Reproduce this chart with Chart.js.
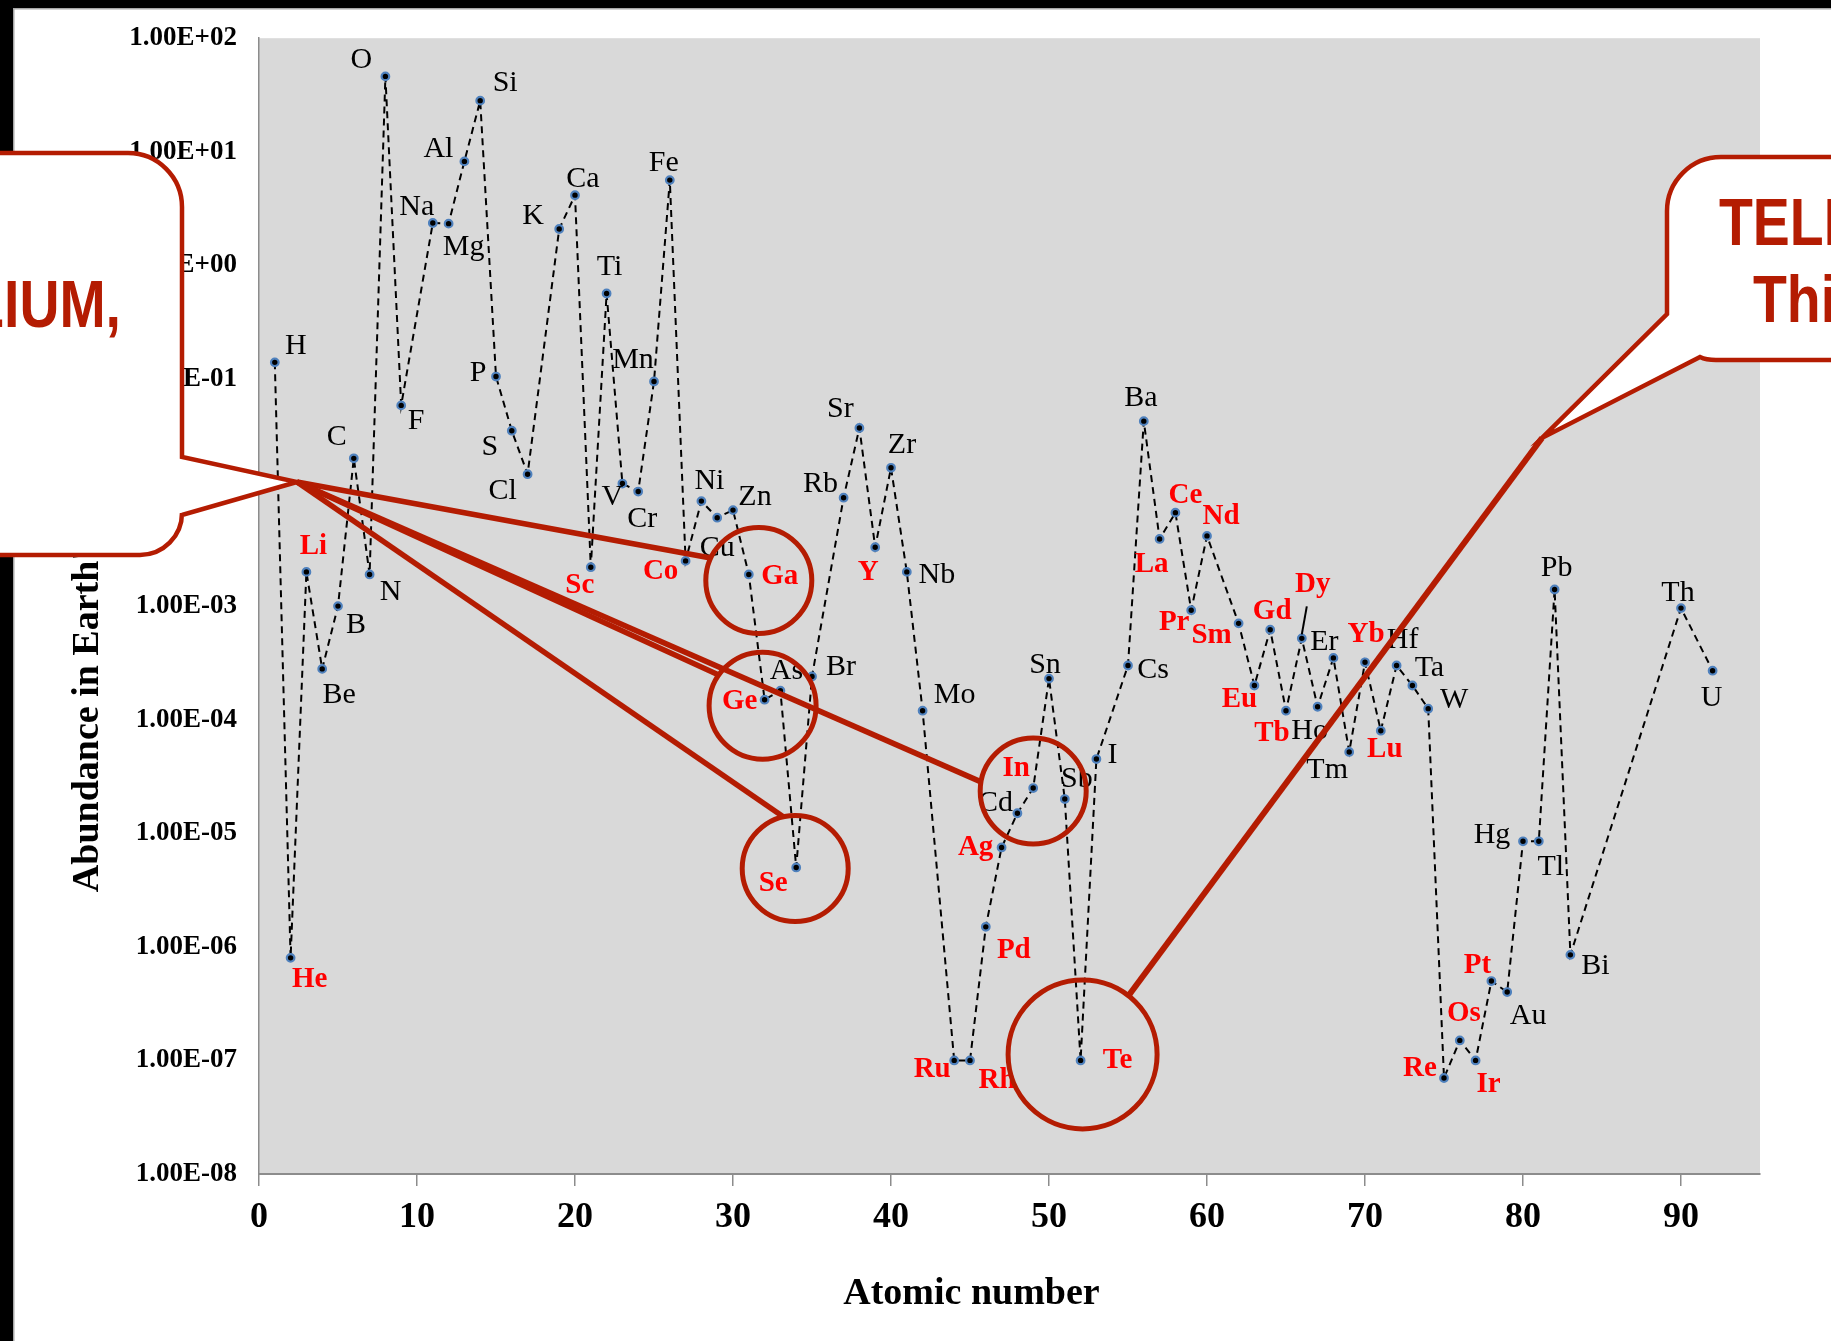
<!DOCTYPE html>
<html>
<head>
<meta charset="utf-8">
<title>Abundance of elements in Earth's crust</title>
<script src="https://cdn.jsdelivr.net/npm/chart.js@4.4.1/dist/chart.umd.min.js"></script>
<style>
html,body{margin:0;padding:0;background:#ffffff;overflow:hidden;}
#c{display:block;}
</style>
</head>
<body>
<canvas id="c" width="1831" height="1341"></canvas>
<script>
// ---------------- DATA ----------------
const symbols = ['H','He','Li','Be','B','C','N','O','F','Na','Mg','Al','Si','P','S','Cl','K','Ca','Sc','Ti','V','Cr','Mn','Fe','Co','Ni','Cu','Zn','Ga','Ge','As','Se','Br','Rb','Sr','Y','Zr','Nb','Mo','Ru','Rh','Pd','Ag','Cd','In','Sn','Sb','Te','I','Cs','Ba','La','Ce','Pr','Nd','Sm','Eu','Gd','Tb','Dy','Ho','Er','Tm','Yb','Lu','Hf','Ta','W','Re','Os','Ir','Pt','Au','Hg','Tl','Pb','Bi','Th','U'];
const atomicNumbers = [1,2,3,4,5,6,7,8,9,11,12,13,14,15,16,17,19,20,21,22,23,24,25,26,27,28,29,30,31,32,33,34,35,37,38,39,40,41,42,44,45,46,47,48,49,50,51,52,53,55,56,57,58,59,60,62,63,64,65,66,67,68,69,70,71,72,73,74,75,76,77,78,79,80,81,82,83,90,92];
const abundance = [0.14,8e-7,2.0e-3,2.8e-4,1.0e-3,0.02,1.9e-3,46.1,0.0585,2.36,2.33,8.23,28.2,0.105,0.035,0.0145,2.09,4.15,2.2e-3,0.565,0.012,0.0102,0.095,5.63,2.5e-3,8.4e-3,6.0e-3,7.0e-3,1.9e-3,1.5e-4,1.8e-4,5e-6,2.4e-4,9e-3,0.037,3.3e-3,0.0165,2.0e-3,1.2e-4,1e-7,1e-7,1.5e-6,7.5e-6,1.5e-5,2.5e-5,2.3e-4,2e-5,1e-7,4.5e-5,3e-4,0.0425,3.9e-3,6.65e-3,9.2e-4,4.15e-3,7.05e-4,2e-4,6.2e-4,1.2e-4,5.2e-4,1.3e-4,3.5e-4,5.2e-5,3.2e-4,8e-5,3e-4,2e-4,1.25e-4,7e-8,1.5e-7,1e-7,5e-7,4e-7,8.5e-6,8.5e-6,1.4e-3,8.5e-7,9.6e-4,2.7e-4];
const highlighted = ['He','Li','Sc','Co','Ga','Ge','Se','Y','Ru','Rh','Pd','Ag','In','Te','La','Ce','Pr','Nd','Sm','Eu','Gd','Tb','Dy','Yb','Lu','Re','Os','Ir','Pt'];
const xTickValues = [0,10,20,30,40,50,60,70,80,90];
const yTickValues = [1e2,1e1,1e0,1e-1,1e-2,1e-3,1e-4,1e-5,1e-6,1e-7,1e-8];
const yTickLabels = ['1.00E+02','1.00E+01','1.00E+00','1.00E-01','1.00E-02','1.00E-03','1.00E-04','1.00E-05','1.00E-06','1.00E-07','1.00E-08'];
const xAxisTitle = 'Atomic number';
const yAxisTitle = "Abundance in Earth's Crust (wt%)";
const calloutLeftText = ['GALLIUM,'];
const calloutRightText = ['TELLURIUM,', 'This'];

// ---------------- STYLE / LAYOUT ----------------
const RED = '#b41c02';
const labelOffsets = {H:[21,-16],He:[19,22],Li:[7,-25],Be:[17,26],B:[18,19],C:[-17,-21],N:[21,18],O:[-24,-16],F:[15,16],Na:[-16,-16],Mg:[15,23],Al:[-26,-12],Si:[25,-18],P:[-18,-3],S:[-22,16],Cl:[-25,17],K:[-26,-13],Ca:[8,-16],Sc:[-11,18],Ti:[3,-26],V:[-10,14],Cr:[4,28],Mn:[-21,-21],Fe:[-6,-17],Co:[-25,11],Ni:[8,-20],Cu:[0,30],Zn:[22,-13],Ga:[31,2],Ge:[-25,2],As:[6,-20],Se:[-23,16],Br:[29,-9],Rb:[-23,-14],Sr:[-19,-19],Y:[-7,25],Zr:[11,-23],Nb:[30,3],Mo:[32,-16],Ru:[-22,9],Rh:[27,20],Pd:[28,24],Ag:[-26,0],Cd:[-22,-10],In:[-17,-20],Sn:[-4,-13],Sb:[12,-20],Te:[37,0],I:[16,-4],Cs:[25,5],Ba:[-3,-23],La:[-8,26],Ce:[10,-17],Pr:[-17,12],Nd:[14,-19],Sm:[-27,12],Eu:[-15,14],Gd:[2,-18],Tb:[-14,23],Dy:[11,-54],Ho:[-8,24],Er:[-9,-16],Tm:[-22,18],Yb:[1,-28],Lu:[4,19],Hf:[6,-25],Ta:[17,-17],W:[26,-9],Re:[-24,-9],Os:[4,-27],Ir:[13,24],Pt:[-14,-16],Au:[21,24],Hg:[-31,-6],Tl:[12,26],Pb:[2,-21],Bi:[25,11],Th:[-3,-15],U:[-1,27]};
// circles drawn around data points: offset from point, radius, connector angle (deg)
const circleStyle = {Ga:{dx:10,dy:6,r:53,a:205},Ge:{dx:-2,dy:6,r:53.5,a:215},Se:{dx:-1,dy:1,r:53,a:257},In:{dx:0,dy:3,r:53,a:190},Te:{dx:2,dy:-6,r:74.5,a:-52}};

const bgPlugin = {
  id: 'bg',
  beforeDraw(chart) {
    const {ctx, width, height, chartArea: a} = chart;
    ctx.save();
    ctx.fillStyle = '#ffffff'; ctx.fillRect(0, 0, width, height);
    ctx.fillStyle = '#d9d9d9'; ctx.fillRect(a.left, a.top, a.right - a.left, a.bottom - a.top);
    ctx.fillStyle = '#000000'; ctx.fillRect(0, 0, width, 8); ctx.fillRect(0, 0, 13, height);
    ctx.fillStyle = '#a6a6a6'; ctx.fillRect(13, 8, width - 13, 1.5); ctx.fillRect(13, 8, 1.5, height - 8);
    ctx.restore();
  }
};

const labelPlugin = {
  id: 'elemLabels',
  afterDatasetsDraw(chart) {
    const ctx = chart.ctx;
    const pts = chart.getDatasetMeta(0).data;
    ctx.save();
    ctx.textAlign = 'center';
    ctx.textBaseline = 'middle';
    symbols.forEach((s, i) => {
      const p = pts[i];
      const o = labelOffsets[s] || [0, -20];
      const red = highlighted.includes(s);
      ctx.font = red ? "bold 29px 'Liberation Serif'" : "30px 'Liberation Serif'";
      ctx.fillStyle = red ? '#ff0000' : '#000000';
      ctx.fillText(s, p.x + o[0], p.y + o[1]);
    });
    // leader line for Dy
    const d = pts[symbols.indexOf('Dy')];
    ctx.strokeStyle = '#000'; ctx.lineWidth = 2;
    ctx.beginPath(); ctx.moveTo(d.x, d.y - 4); ctx.lineTo(d.x + 5, d.y - 32); ctx.stroke();
    ctx.restore();
  }
};

const calloutPlugin = {
  id: 'callouts',
  afterDraw(chart) {
    const ctx = chart.ctx;
    const pts = chart.getDatasetMeta(0).data;
    const circ = {};
    for (const [s, c] of Object.entries(circleStyle)) {
      const p = pts[symbols.indexOf(s)];
      circ[s] = {x: p.x + c.dx, y: p.y + c.dy, r: c.r, a: c.a * Math.PI / 180};
    }
    const edge = c => [c.x + c.r * Math.cos(c.a), c.y + c.r * Math.sin(c.a)];
    ctx.save();
    ctx.strokeStyle = RED;
    ctx.lineCap = 'butt';
    ctx.lineJoin = 'miter';
    // connectors from the left callout
    const tipL = [297, 482];
    ctx.lineWidth = 5.5;
    ['Ga', 'Ge', 'In', 'Se'].forEach(s => {
      const e = edge(circ[s]);
      ctx.beginPath(); ctx.moveTo(tipL[0], tipL[1]); ctx.lineTo(e[0], e[1]); ctx.stroke();
    });
    // connector from the right callout
    const tipR = [1542, 438];
    const eT = edge(circ.Te);
    ctx.lineWidth = 6;
    ctx.beginPath(); ctx.moveTo(tipR[0], tipR[1]); ctx.lineTo(eT[0], eT[1]); ctx.stroke();
    // circles
    ctx.lineWidth = 5;
    Object.values(circ).forEach(c => { ctx.beginPath(); ctx.arc(c.x, c.y, c.r, 0, Math.PI * 2); ctx.stroke(); });
    // left callout box
    ctx.lineWidth = 4.5;
    ctx.fillStyle = '#ffffff';
    ctx.beginPath();
    ctx.moveTo(-60, 153);
    ctx.arcTo(182, 153, 182, 400, 54);
    ctx.lineTo(182, 457);
    ctx.lineTo(tipL[0], tipL[1]);
    ctx.lineTo(182, 515);
    ctx.arcTo(182, 555, -60, 555, 42);
    ctx.lineTo(-60, 555);
    ctx.closePath();
    ctx.fill(); ctx.stroke();
    // right callout box
    ctx.beginPath();
    ctx.moveTo(1900, 157);
    ctx.arcTo(1667, 157, 1667, 320, 54);
    ctx.lineTo(1667, 314);
    ctx.lineTo(tipR[0], tipR[1]);
    ctx.lineTo(1700, 357);
    ctx.quadraticCurveTo(1706, 360, 1716, 360);
    ctx.lineTo(1900, 360);
    ctx.closePath();
    ctx.fill(); ctx.stroke();
    // callout texts
    ctx.fillStyle = RED;
    ctx.font = "bold 66px 'Liberation Sans'";
    ctx.textBaseline = 'alphabetic';
    const sx = 0.84;
    ctx.save(); ctx.scale(sx, 1);
    ctx.textAlign = 'right';
    ctx.fillText(calloutLeftText[0], 121 / sx, 327);
    ctx.textAlign = 'left';
    ctx.fillText(calloutRightText[0], 1719 / sx, 245);
    ctx.fillText(calloutRightText[1], 1753 / sx, 322);
    ctx.restore();
    ctx.restore();
  }
};

const chart = new Chart(document.getElementById('c'), {
  type: 'scatter',
  data: {
    datasets: [{
      data: atomicNumbers.map((z, i) => ({x: z, y: abundance[i]})),
      showLine: true,
      borderColor: '#000000',
      borderWidth: 2,
      borderDash: [7, 5],
      tension: 0,
      pointRadius: 3.8,
      pointBackgroundColor: '#000000',
      pointBorderColor: '#4f81bd',
      pointBorderWidth: 2.2
    }]
  },
  options: {
    responsive: false,
    animation: false,
    devicePixelRatio: 1,
    events: [],
    layout: {padding: {top: 38, right: 71, left: 0, bottom: 0}},
    plugins: {legend: {display: false}, tooltip: {enabled: false}},
    scales: {
      x: {
        type: 'linear', min: 0, max: 95,
        afterBuildTicks: s => { s.ticks = xTickValues.map(v => ({value: v})); },
        afterFit: s => { s.height = 167; },
        grid: {display: true, drawOnChartArea: false, drawTicks: true, tickLength: 12, color: '#8c8c8c', lineWidth: 1.5},
        border: {display: true, color: '#8c8c8c', width: 2},
        ticks: {autoSkip: false, maxRotation: 0, padding: 10, color: '#000',
          font: {family: "'Liberation Serif'", size: 36, weight: 'bold', lineHeight: 1.2},
          callback: v => String(v)},
        title: {display: true, text: xAxisTitle + '        ', color: '#000',
          font: {family: "'Liberation Serif'", size: 38, weight: 'bold', lineHeight: 1.2},
          padding: {top: 0, bottom: 24}}
      },
      y: {
        type: 'logarithmic', min: 1e-8, max: 100,
        afterBuildTicks: s => { s.ticks = yTickValues.map(v => ({value: v, major: true})); },
        afterFit: s => { s.width = 259; },
        grid: {display: false, drawTicks: false},
        border: {display: true, color: '#8c8c8c', width: 1.5},
        ticks: {autoSkip: false, padding: 22, color: '#000',
          font: {family: "'Liberation Serif'", size: 27, weight: 'bold', lineHeight: 1.2},
          callback: (v) => { const k = yTickValues.findIndex(t => Math.abs(Math.log10(t) - Math.log10(v)) < 1e-6); return k >= 0 ? yTickLabels[k] : ''; }},
        title: {display: true, text: yAxisTitle, color: '#000',
          font: {family: "'Liberation Serif'", size: 38, weight: 'bold', lineHeight: 1.2},
          padding: {top: 65, bottom: 0}}
      }
    }
  },
  plugins: [bgPlugin, labelPlugin, calloutPlugin]
});
</script>
</body>
</html>
